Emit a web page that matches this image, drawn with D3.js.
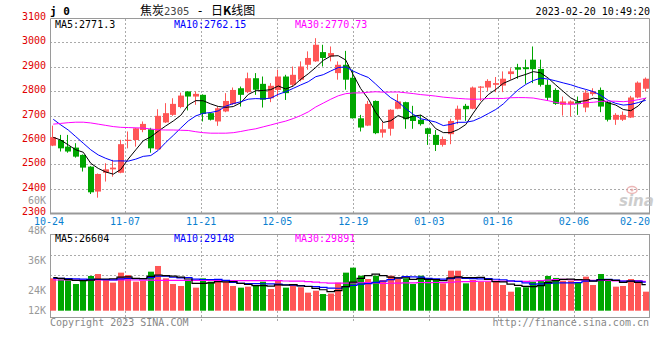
<!DOCTYPE html>
<html><head><meta charset="utf-8">
<script src="https://cdn.jsdelivr.net/npm/d3@7"></script>
<style>
html,body{margin:0;padding:0;background:#fff;}
svg{display:block;}
text{font-family:"DejaVu Sans Mono",monospace;font-size:10px;}
</style></head><body>
<svg id="c" width="660" height="360"></svg>
<script>
const dates = ["10-24","10-25","10-26","10-27","10-28","10-31",
"11-01","11-02","11-03","11-04","11-07","11-08","11-09","11-10","11-11","11-14","11-15","11-16","11-17","11-18","11-21","11-22","11-23","11-24","11-25","11-28","11-29","11-30",
"12-01","12-02","12-05","12-06","12-07","12-08","12-09","12-12","12-13","12-14","12-15","12-16","12-19","12-20","12-21","12-22","12-23","12-26","12-27","12-28","12-29","12-30",
"01-03","01-04","01-05","01-06","01-09","01-10","01-11","01-12","01-13","01-16","01-17","01-18","01-19","01-20","01-30","01-31",
"02-01","02-02","02-03","02-06","02-07","02-08","02-09","02-10","02-13","02-14","02-15","02-16","02-17","02-20"];
const open = [2577,2600,2573,2569,2539,2491,2389,2466,2480,2466, 2598,2600,2641,2644,2562,2672,2703,2735,2799,2778, 2785,2710,2676,2717,2747,2812,2796,2853,2830,2771, 2805,2860,2826,2847,2908,2922,2960,2942,2874,2908, 2855,2689,2659,2760,2630,2646,2728,2755,2699,2683, 2648,2621,2580,2624,2683,2740,2728,2815,2815,2826, 2823,2870,2898,2898,2929,2891,2826,2805,2744,2747, 2758,2733,2788,2805,2755,2683,2683,2692,2774,2810];
const high = [2659,2621,2621,2587,2541,2493,2463,2505,2519,2601, 2635,2650,2676,2650,2726,2751,2771,2794,2800,2799, 2787,2712,2737,2792,2815,2819,2876,2874,2860,2833, 2888,2867,2901,2922,2963,3017,2990,2983,2922,2965, 2888,2703,2760,2762,2673,2726,2788,2757,2740,2703, 2650,2641,2614,2687,2741,2748,2819,2821,2849,2858, 2881,2894,2912,2929,2983,2929,2847,2812,2778,2762, 2778,2805,2812,2815,2760,2710,2717,2781,2840,2856];
const low = [2575,2553,2548,2528,2471,2379,2364,2430,2450,2464, 2566,2573,2632,2548,2560,2670,2699,2730,2721,2744, 2676,2680,2658,2714,2744,2737,2792,2785,2733,2755, 2778,2764,2819,2840,2888,2920,2901,2922,2847,2806, 2688,2635,2657,2624,2610,2618,2726,2646,2646,2659, 2580,2555,2573,2583,2665,2678,2726,2760,2801,2796, 2796,2847,2851,2830,2833,2819,2760,2744,2700,2696, 2703,2714,2781,2714,2676,2662,2678,2690,2771,2799];
const close = [2612,2566,2553,2532,2487,2386,2461,2480,2487,2583, 2601,2648,2666,2566,2699,2710,2748,2782,2778,2789, 2707,2683,2730,2760,2805,2785,2853,2806,2765,2822, 2860,2792,2867,2901,2936,2990,2936,2956,2908,2847, 2689,2651,2748,2628,2644,2724,2758,2685,2678,2665, 2625,2580,2604,2678,2728,2726,2815,2819,2842,2833, 2851,2881,2888,2890,2890,2826,2773,2748,2758,2758, 2748,2794,2799,2737,2683,2703,2703,2774,2835,2851];
const volume = [33000,32000,31300,27200,30300,35400,37400,31300,28600,38800,
36400,29600,30600,39800,45600,33000,27200,25200,30600,23500,
33000,29600,31300,29600,25200,23500,24500,25200,29600,22100,
30300,23500,27200,23900,18400,20400,17000,17500,28600,38800,
43900,35700,32300,35700,31300,35700,32300,33000,27200,35700,
31300,31300,27900,40800,40800,27900,31300,29600,29600,30300,
26200,19400,23900,23900,29600,30600,35400,33400,30600,30600,
28600,34700,26200,37400,31300,24500,25200,32300,31300,19400];
// moving-average values before enough history is on screen
const ma5Head = [2611,2600,2580,2560];
const ma10Head = [2685,2662,2641,2614,2587,2560,2539,2525,2514];
const ma30Head = [2665,2668,2671,2673,2673,2670,2665,2660,2655,2652,2651,2650,2649,2645,2642,2641,2641,2640,2639,2634,2630,2628,2628,2628,2630,2635,2641,2646,2654];
const vma5Head = [33700,33000,32000,31000];
const vma10Head = [33000,33000,32800,32500,32200,32000,31800,31600,31500];
const vma30Head = [31300,31300,31300,31300,31300,31300,31300,31300,31300,31300,31300,31300,31200,31100,31000,31000,31000,31000,31000,31000,30900,30800,30700,30700,30600,30600,30600,30600,30600];
const dateTicks = ["10-24","11-07","11-21","12-05","12-19","01-03","01-16","02-06","02-20"];
const priceTicks = [3100,3000,2900,2800,2700,2600,2500,2400,2300];
const volTicks = [60000,48000,36000,24000,12000];
const headerPrice = ["MA5:2771.3","MA10:2762.15","MA30:2770.73"];
const headerVol = ["MA5:26604","MA10:29148","MA30:29891"];

const svg = d3.select("#c");
const L = 50, R = 650;
const RED = "#ff5656", GREEN = "#00a600", FRAME = "#9a9a9a", GRID = "#aaaaaa";
const xb = d3.scaleBand().domain(dates).range([49.5, 649.5]);
const cx = d => xb(d) + xb.bandwidth() / 2;
const xt = d3.scalePoint().domain(dates).range([49, 650]);
const y = d3.scaleLinear().domain([2300, 3100]).range([213.3, 17.9]);
const yv = d3.scaleLinear().domain([0, 78000]).range([310.7, 234.2]);
const yvLab = d3.scaleLinear().domain([12000, 60000]).range([324.3, 204]);

const ma = (arr, n, head) => arr.map((v, i) => i < n - 1 ? head[i] : d3.mean(arr.slice(i - n + 1, i + 1)));
const data = dates.map((d, i) => ({d, o: open[i], h: high[i], l: low[i], c: close[i], v: volume[i]}));

// grids
const g = svg.append("g");
[3000,2900,2800,2700,2600,2500,2400].forEach(t => {
  g.append("line").attr("x1", L).attr("x2", R).attr("y1", Math.round(y(t)) + 0.5).attr("y2", Math.round(y(t)) + 0.5)
   .attr("stroke", GRID).attr("stroke-dasharray", "2,2");
});
[255.5, 275.5, 295.5].forEach(yy => {
  g.append("line").attr("x1", L).attr("x2", R).attr("y1", yy).attr("y2", yy)
   .attr("stroke", GRID).attr("stroke-dasharray", "2,2");
});
dateTicks.slice(1, -1).forEach(d => {
  const xx = Math.round(xt(d)) + 0.5;
  g.append("line").attr("x1", xx).attr("x2", xx).attr("y1", 19).attr("y2", 213).attr("stroke", GRID).attr("stroke-dasharray", "2,2");
  g.append("line").attr("x1", xx).attr("x2", xx).attr("y1", 235).attr("y2", 321).attr("stroke", GRID).attr("stroke-dasharray", "2,2");
});

// frames
const fr = svg.append("g").attr("stroke", FRAME).attr("fill", "none");
fr.append("path").attr("d", `M${L+0.5},213 V18.5 H${R-0.5} V213`);
fr.append("line").attr("x1", L).attr("x2", R).attr("y1", 213.5).attr("y2", 213.5).attr("stroke-width", 2);
fr.append("rect").attr("x", L + 0.5).attr("y", 234.5).attr("width", R - L - 1).attr("height", 83);

// candles
const cg = svg.append("g");
data.forEach(p => {
  const col = p.c >= p.o ? RED : GREEN;
  const bx = Math.round(cx(p.d) - 3);
  cg.append("line").attr("x1", bx + 2.5).attr("x2", bx + 2.5).attr("y1", y(p.h)).attr("y2", y(p.l)).attr("stroke", col);
  const top = y(Math.max(p.o, p.c)), bot = y(Math.min(p.o, p.c));
  cg.append("rect").attr("x", bx).attr("y", top).attr("width", 6).attr("height", Math.max(1.2, bot - top)).attr("fill", col);
  cg.append("rect").attr("x", bx).attr("y", yv(p.v)).attr("width", 6).attr("height", yv(0) - yv(p.v)).attr("fill", col);
});

// MA lines
svg.append("clipPath").attr("id", "cp").append("rect").attr("x", L).attr("y", 19).attr("width", R - L).attr("height", 194);
const lp = d3.line().x((v, i) => cx(dates[i])).y(v => y(v));
[[ma(close, 5, ma5Head), "#000"], [ma(close, 10, ma10Head), "#0000ff"], [ma(close, 30, ma30Head), "#ff00ff"]].forEach(([s, c]) => {
  svg.append("path").attr("d", lp(s)).attr("fill", "none").attr("stroke", c).attr("stroke-width", 1).attr("clip-path", "url(#cp)");
});
const lv = d3.line().x((v, i) => cx(dates[i])).y(v => yv(v)).curve(d3.curveStep);
[[ma(volume, 30, vma30Head), "#ff00ff"], [ma(volume, 10, vma10Head), "#0000ff"], [ma(volume, 5, vma5Head), "#000"]].forEach(([s, c]) => {
  svg.append("path").attr("d", lv(s)).attr("fill", "none").attr("stroke", c).attr("stroke-width", 1.2);
});

// axis labels
priceTicks.forEach(t => {
  svg.append("text").attr("x", 46).attr("y", y(t) + 2).attr("text-anchor", "end").attr("fill", "#e00000").text(t);
});
volTicks.forEach(t => {
  svg.append("text").attr("x", 46).attr("y", Math.min(313.5, yvLab(t))).attr("text-anchor", "end").attr("fill", "#999").text(d3.format("~s")(t).replace("k", "K"));
});
dateTicks.forEach((d, i) => {
  svg.append("text").attr("x", i === dateTicks.length - 1 ? 650 : xt(d)).attr("y", 225)
    .attr("text-anchor", i === dateTicks.length - 1 ? "end" : "middle").attr("fill", "#0a7fd0").text(d);
});

// headers
const hcols = [55, 174, 295], hcolors = ["#000", "#0000ff", "#ff00ff"];
headerPrice.forEach((t, i) => svg.append("text").attr("x", hcols[i]).attr("y", 27.5).attr("fill", hcolors[i]).text(t));
headerVol.forEach((t, i) => svg.append("text").attr("x", hcols[i]).attr("y", 241.5).attr("fill", hcolors[i]).text(t));

svg.append("text").attr("x", 50).attr("y", 15).attr("font-weight", "bold").style("font-size", "11px").text("j 0");
const title = svg.append("text").attr("x", 140).attr("y", 15).style("font-size", "12px");
title.append("tspan").style("font-family", "'Noto Sans CJK SC'").text("焦炭");
title.append("tspan").attr("fill", "#444").style("font-size", "10.5px").text("2305");
title.append("tspan").text(" - ");
title.append("tspan").style("font-family", "'Noto Sans CJK SC'").text("日");
title.append("tspan").attr("font-weight", "bold").style("font-family", "'Noto Sans CJK SC'").text("K");
title.append("tspan").style("font-family", "'Noto Sans CJK SC'").text("线图");
svg.append("text").attr("x", 650).attr("y", 15).attr("text-anchor", "end").text("2023-02-20 10:49:20");

svg.append("text").attr("x", 50).attr("y", 326).attr("fill", "#888").text("Copyright 2023 SINA.COM");
svg.append("text").attr("x", 649).attr("y", 326).attr("text-anchor", "end").attr("fill", "#888").text("http://finance.sina.com.cn");

// sina watermark
const wm = svg.append("g").attr("opacity", 0.75);
wm.append("ellipse").attr("cx", 632).attr("cy", 190).attr("rx", 5).attr("ry", 3.5).attr("fill", "none").attr("stroke", "#e6a0a0").attr("stroke-width", 1.5);
wm.append("circle").attr("cx", 632).attr("cy", 190).attr("r", 1.5).attr("fill", "#e6a0a0");
wm.append("text").attr("x", 619).attr("y", 206).style("font-family", "'DejaVu Sans'").style("font-size", "15px")
  .attr("font-weight", "bold").attr("font-style", "italic").attr("fill", "#bdbdbd").text("sina");
</script>
</body></html>
